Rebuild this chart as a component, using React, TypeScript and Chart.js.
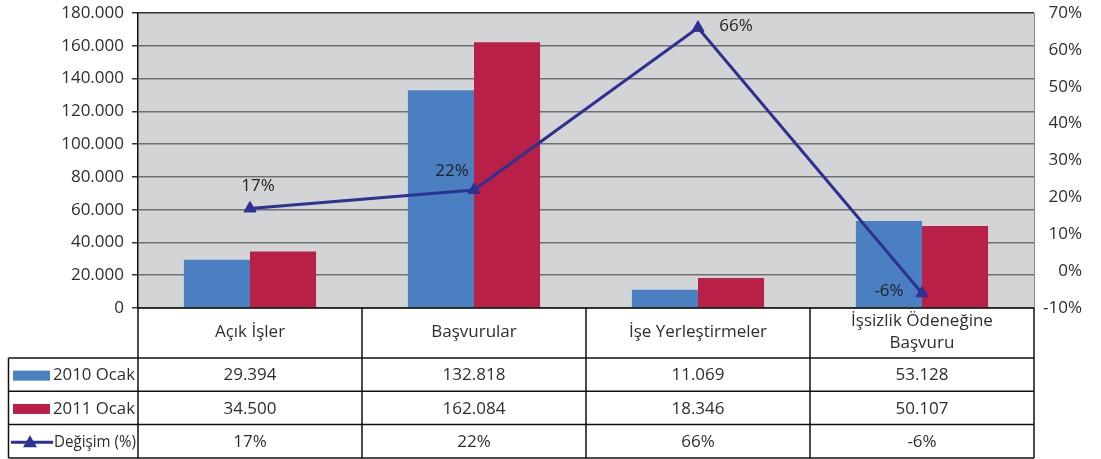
import React, { useEffect, useRef } from "react";
import { Chart, registerables } from "chart.js";

Chart.register(...registerables);

const categories: (string | string[])[] = [
  "Açık İşler",
  "Başvurular",
  "İşe Yerleştirmeler",
  ["İşsizlik Ödeneğine", "Başvuru"],
];
const series2010 = [29394, 132818, 11069, 53128];
const series2011 = [34500, 162084, 18346, 50107];
const changePct = [17, 22, 66, -6];
const seriesNames = ["2010 Ocak", "2011 Ocak", "Değişim (%)"];
const leftTicks = { min: 0, max: 180000, step: 20000 };
const rightTicks = { min: -10, max: 70, step: 10 };

const BLUE = "#4A7FC1";
const RED = "#B82048";
const NAVY = "#2D3192";
const TEXT = "#2e2e2e";
const FONT = "'Open Sans', 'Noto Sans', sans-serif";

const fmt = (v: number) =>
  String(Math.round(v)).replace(/\B(?=(\d{3})+(?!\d))/g, ".");

// label offsets relative to the marker (style only)
const LABEL_OFFSETS = [
  [8, -22],
  [-22, -19],
  [38, -2],
  [-33, -2],
];

const bgPlugin = {
  id: "plotBg",
  beforeDraw(chart: any) {
    const { ctx, chartArea } = chart;
    ctx.save();
    ctx.fillStyle = "#fff";
    ctx.fillRect(0, 0, chart.width, chart.height);
    ctx.fillStyle = "#D3D4D6";
    ctx.fillRect(
      chartArea.left,
      chartArea.top,
      chartArea.right - chartArea.left,
      chartArea.bottom - chartArea.top
    );
    ctx.restore();
  },
};

const labelPlugin = {
  id: "pctLabels",
  afterDatasetsDraw(chart: any) {
    const meta = chart.getDatasetMeta(2);
    const ctx = chart.ctx;
    ctx.save();
    ctx.font = `17px ${FONT}`;
    ctx.fillStyle = "#222";
    ctx.textAlign = "center";
    ctx.textBaseline = "middle";
    meta.data.forEach((pt: any, i: number) => {
      const [dx, dy] = LABEL_OFFSETS[i];
      ctx.fillText(`${changePct[i]}%`, pt.x + dx, pt.y + dy);
    });
    ctx.restore();
  },
};

const tablePlugin = {
  id: "dataTable",
  afterDraw(chart: any) {
    const { ctx, chartArea } = chart;
    const xs = chart.scales.x;
    const n = categories.length;
    const half = (xs.getPixelForValue(1) - xs.getPixelForValue(0)) / 2;
    const bounds: number[] = [];
    for (let i = 0; i < n; i++) bounds.push(xs.getPixelForValue(i) - half);
    bounds.push(xs.getPixelForValue(n - 1) + half);

    const top = chartArea.bottom;
    const headerBottom = top + 50;
    const rowH = 33.3;
    const rowsY = [headerBottom, headerBottom + rowH, headerBottom + 2 * rowH, headerBottom + 3 * rowH];
    const tableLeft = 8.5;
    const right = bounds[n];

    ctx.save();
    ctx.strokeStyle = "#111";
    ctx.lineWidth = 1.5;
    ctx.beginPath();
    ctx.moveTo(bounds[0], top);
    ctx.lineTo(right, top);
    rowsY.forEach((y) => {
      ctx.moveTo(tableLeft, y);
      ctx.lineTo(right, y);
    });
    bounds.forEach((b) => {
      ctx.moveTo(b, top);
      ctx.lineTo(b, rowsY[3]);
    });
    ctx.moveTo(tableLeft, headerBottom);
    ctx.lineTo(tableLeft, rowsY[3]);
    ctx.stroke();

    ctx.fillStyle = TEXT;
    ctx.font = `17px ${FONT}`;
    ctx.textAlign = "center";
    ctx.textBaseline = "middle";
    categories.forEach((c, i) => {
      const cx = (bounds[i] + bounds[i + 1]) / 2;
      const lines = Array.isArray(c) ? c : [c];
      const lh = 22;
      const mid = (top + headerBottom) / 2 - 1;
      lines.forEach((ln, j) => {
        ctx.fillText(ln, cx, mid + (j - (lines.length - 1) / 2) * lh);
      });
    });
    const rows = [
      series2010.map(fmt),
      series2011.map(fmt),
      changePct.map((v) => `${v}%`),
    ];
    rows.forEach((r, ri) => {
      const cy = (rowsY[ri] + rowsY[ri + 1]) / 2 + 1;
      r.forEach((txt, i) => {
        const cx = (bounds[i] + bounds[i + 1]) / 2;
        ctx.fillText(txt, cx, cy);
      });
      ctx.textAlign = "left";
      if (ri < 2) {
        ctx.fillStyle = ri === 0 ? BLUE : RED;
        ctx.fillRect(13, cy - 5, 37, 10);
        ctx.fillStyle = TEXT;
        ctx.fillText(seriesNames[ri], 53, cy, 82);
      } else {
        ctx.strokeStyle = NAVY;
        ctx.lineWidth = 3;
        ctx.beginPath();
        ctx.moveTo(11, cy);
        ctx.lineTo(53, cy);
        ctx.stroke();
        ctx.fillStyle = NAVY;
        ctx.beginPath();
        ctx.moveTo(30, cy - 7);
        ctx.lineTo(37, cy + 5);
        ctx.lineTo(23, cy + 5);
        ctx.closePath();
        ctx.fill();
        ctx.fillStyle = TEXT;
        ctx.fillText(seriesNames[ri], 54, cy, 82);
      }
      ctx.textAlign = "center";
    });
    ctx.restore();
  },
};

export default function App() {
  const ref = useRef<HTMLCanvasElement | null>(null);
  useEffect(() => {
    document.body.style.margin = "0";
    const canvas = ref.current!;
    const chart = new Chart(canvas, {
      type: "bar",
      data: {
        labels: categories as any,
        datasets: [
          {
            type: "bar",
            label: seriesNames[0],
            data: series2010,
            backgroundColor: BLUE,
            yAxisID: "y",
            order: 1,
            categoryPercentage: 0.59,
            barPercentage: 1.0,
          },
          {
            type: "bar",
            label: seriesNames[1],
            data: series2011,
            backgroundColor: RED,
            yAxisID: "y",
            order: 1,
            categoryPercentage: 0.59,
            barPercentage: 1.0,
          },
          {
            type: "line",
            label: seriesNames[2],
            data: changePct,
            borderColor: NAVY,
            backgroundColor: NAVY,
            borderWidth: 3,
            pointStyle: "triangle",
            pointRadius: 7,
            pointBorderWidth: 1,
            pointBackgroundColor: NAVY,
            pointBorderColor: NAVY,
            yAxisID: "y1",
            order: 0,
            tension: 0,
          } as any,
        ],
      },
      options: {
        responsive: false,
        animation: false,
        layout: { padding: { top: 13, bottom: 151, left: 0, right: 19 } },
        plugins: {
          legend: { display: false },
          tooltip: { enabled: false },
        },
        scales: {
          x: {
            display: false,
            offset: true,
            grid: { display: false },
          },
          y: {
            position: "left",
            min: leftTicks.min,
            max: leftTicks.max,
            ticks: {
              stepSize: leftTicks.step,
              callback: (v: any) => fmt(Number(v)),
              font: { family: FONT, size: 17 },
              color: TEXT,
              padding: 8,
            },
            grid: {
              color: (c: any) => (c.tick && c.tick.value === leftTicks.max ? "#333" : "#707070"),
              lineWidth: 1.5,
              tickLength: 6,
              tickColor: "#333",
            },
            border: { color: "#111", width: 1.5 },
            afterFit: (s: any) => {
              s.width = 138;
              s.paddingTop = 0;
              s.paddingBottom = 0;
            },
          },
          y1: {
            position: "right",
            min: rightTicks.min,
            max: rightTicks.max,
            ticks: {
              stepSize: rightTicks.step,
              callback: (v: any) => `${v}%`,
              font: { family: FONT, size: 17 },
              color: TEXT,
              padding: 7,
              crossAlign: "far",
            },
            grid: { drawOnChartArea: false, drawTicks: false },
            border: { color: "#8a8a8a", width: 1 },
            afterFit: (s: any) => {
              s.width = 48;
              s.paddingTop = 0;
              s.paddingBottom = 0;
            },
          },
        },
      },
      plugins: [bgPlugin, labelPlugin, tablePlugin],
    });
    return () => chart.destroy();
  }, []);
  return <canvas ref={ref} width={1101} height={459} style={{ display: "block" }} />;
}
